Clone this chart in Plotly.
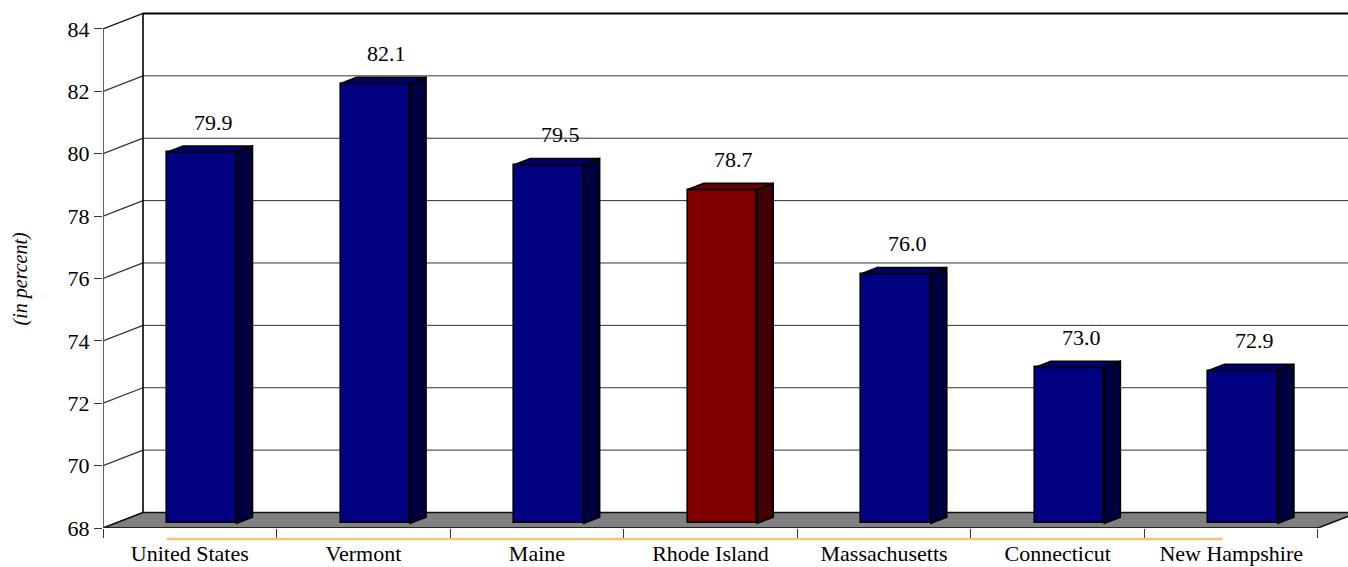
import plotly.graph_objects as go

# Percentages by state
states = ["United States", "Vermont", "Maine", "Rhode Island",
          "Massachusetts", "Connecticut", "New Hampshire"]
values = [79.9, 82.1, 79.5, 78.7, 76.0, 73.0, 72.9]
highlight = "Rhode Island"

y_ticks = [68, 70, 72, 74, 76, 78, 80, 82, 84]
y_min, y_max = 68, 84

# Pseudo-3D geometry (in axis units)
DX = 0.2305      # full depth offset along x (category units)
DY = 0.497       # full depth offset along y (value units)
BAR_W = 0.40     # bar width in category units
D_FRONT, D_BACK = 0.3, 0.7   # bar front/back depth fractions

FONT = "Liberation Serif"
FS = 22

n = len(states)
x_left, x_right = -0.5, n - 0.5

fig = go.Figure()
shapes = []

# Back wall and left wall gridlines
for v in y_ticks:
    col, w = ("#000000", 2) if v == y_max else ("#333333", 1)
    if v != y_min:
        shapes.append(dict(type="line", xref="x", yref="y", layer="below",
                           x0=x_left + DX, x1=x_right + 2 * DX,
                           y0=v + DY, y1=v + DY, line=dict(color=col, width=w)))
    shapes.append(dict(type="line", xref="x", yref="y", layer="below",
                       x0=x_left, x1=x_left + DX, y0=v, y1=v + DY,
                       line=dict(color="#111111" if v in (y_min, y_max) else "#333333",
                                 width=1.3)))
# Back wall left edge
shapes.append(dict(type="line", xref="x", yref="y", layer="below",
                   x0=x_left + DX, x1=x_left + DX, y0=y_min + DY, y1=y_max + DY,
                   line=dict(color="#000000", width=1.6)))
# Floor
floor_path = (f"M {x_left},{y_min} L {x_right},{y_min} "
              f"L {x_right + DX},{y_min + DY} L {x_left + DX},{y_min + DY} Z")
shapes.append(dict(type="path", xref="x", yref="y", layer="below", path=floor_path,
                   fillcolor="#808080", line=dict(color="#111111", width=1.5)))

# Bars: front faces as bar trace, top and side faces as polygons
front_cols, top_cols, side_cols = [], [], []
for s in states:
    if s == highlight:
        front_cols.append("#800000"); top_cols.append("#6a0000"); side_cols.append("#400000")
    else:
        front_cols.append("#000080"); top_cols.append("#00006a"); side_cols.append("#000040")

base = y_min + D_FRONT * DY
xc_front = [i + D_FRONT * DX for i in range(n)]
fig.add_trace(go.Bar(
    x=xc_front, y=[v - y_min for v in values], base=base, width=BAR_W,
    marker=dict(color=front_cols, line=dict(color="#000000", width=1.6)),
    hoverinfo="skip", showlegend=False))

dd = (D_BACK - D_FRONT) * DX
dv = (D_BACK - D_FRONT) * DY
for i, v in enumerate(values):
    xl = xc_front[i] - BAR_W / 2
    xr = xl + BAR_W
    top = v + D_FRONT * DY
    shapes.append(dict(type="path", xref="x", yref="y", layer="above",
                       path=f"M {xl},{top} L {xr},{top} L {xr + dd},{top + dv} L {xl + dd},{top + dv} Z",
                       fillcolor=top_cols[i], line=dict(color="#000000", width=1.6)))
    shapes.append(dict(type="path", xref="x", yref="y", layer="above",
                       path=f"M {xr},{base} L {xr},{top} L {xr + dd},{top + dv} L {xr + dd},{base + dv} Z",
                       fillcolor=side_cols[i], line=dict(color="#000000", width=1.6)))

# Front axis line and floor front edge
fig.add_trace(go.Scatter(x=[x_left, x_left], y=[y_min, y_max], mode="lines",
                         line=dict(color="#333333", width=1.5), cliponaxis=False,
                         hoverinfo="skip", showlegend=False))
fig.add_trace(go.Scatter(x=[x_left, x_right], y=[y_min, y_min], mode="lines",
                         line=dict(color="#222222", width=1.5), cliponaxis=False,
                         hoverinfo="skip", showlegend=False))

# Underline beneath the category axis
shapes.append(dict(type="line", xref="x", yref="paper", x0=-0.133, x1=5.951,
                   y0=-0.021, y1=-0.021, line=dict(color="#f0c878", width=2.5)))

# Value labels
annotations = []
for i, v in enumerate(values):
    annotations.append(dict(x=i + 0.5 * DX + 0.02, y=v + 0.5 * DY, xref="x", yref="y",
                            text=f"{v:.1f}", showarrow=False, yanchor="middle", yshift=27,
                            font=dict(family=FONT, size=FS, color="#000000")))
annotations.append(dict(x=-0.0659, y=76.0, xref="paper", yref="y",
                        text="<i>(in percent)</i>", textangle=-90, showarrow=False,
                        xanchor="center", yanchor="middle",
                        font=dict(family=FONT, size=20, color="#000000")))

px_per_unit_y = 31.19
fig.update_layout(
    width=1348, height=567,
    margin=dict(l=103, r=0, t=5, b=39, autoexpand=False),
    paper_bgcolor="white", plot_bgcolor="white",
    shapes=shapes, annotations=annotations,
    xaxis=dict(range=[x_left, x_left + 1245 / 173.57], showgrid=False, zeroline=False,
               showline=False, tickmode="array", tickvals=list(range(n)), ticktext=states,
               ticks="", ticklabelstandoff=10, automargin=False,
               tickfont=dict(family=FONT, size=FS, color="#000000"),
               minor=dict(tickmode="array", tickvals=[x_left + k for k in range(n + 1)],
                          ticks="outside", ticklen=9, tickcolor="#333333", tickwidth=1.3,
                          showgrid=False)),
    yaxis=dict(range=[y_min, y_min + 523 / px_per_unit_y], showgrid=False, zeroline=False,
               showline=False, tickmode="array", tickvals=y_ticks, automargin=False,
               ticks="outside", ticklen=8, tickcolor="#333333", tickwidth=1.3,
               tickfont=dict(family=FONT, size=FS, color="#000000")),
    bargap=0,
)

fig.write_html("out.html")
